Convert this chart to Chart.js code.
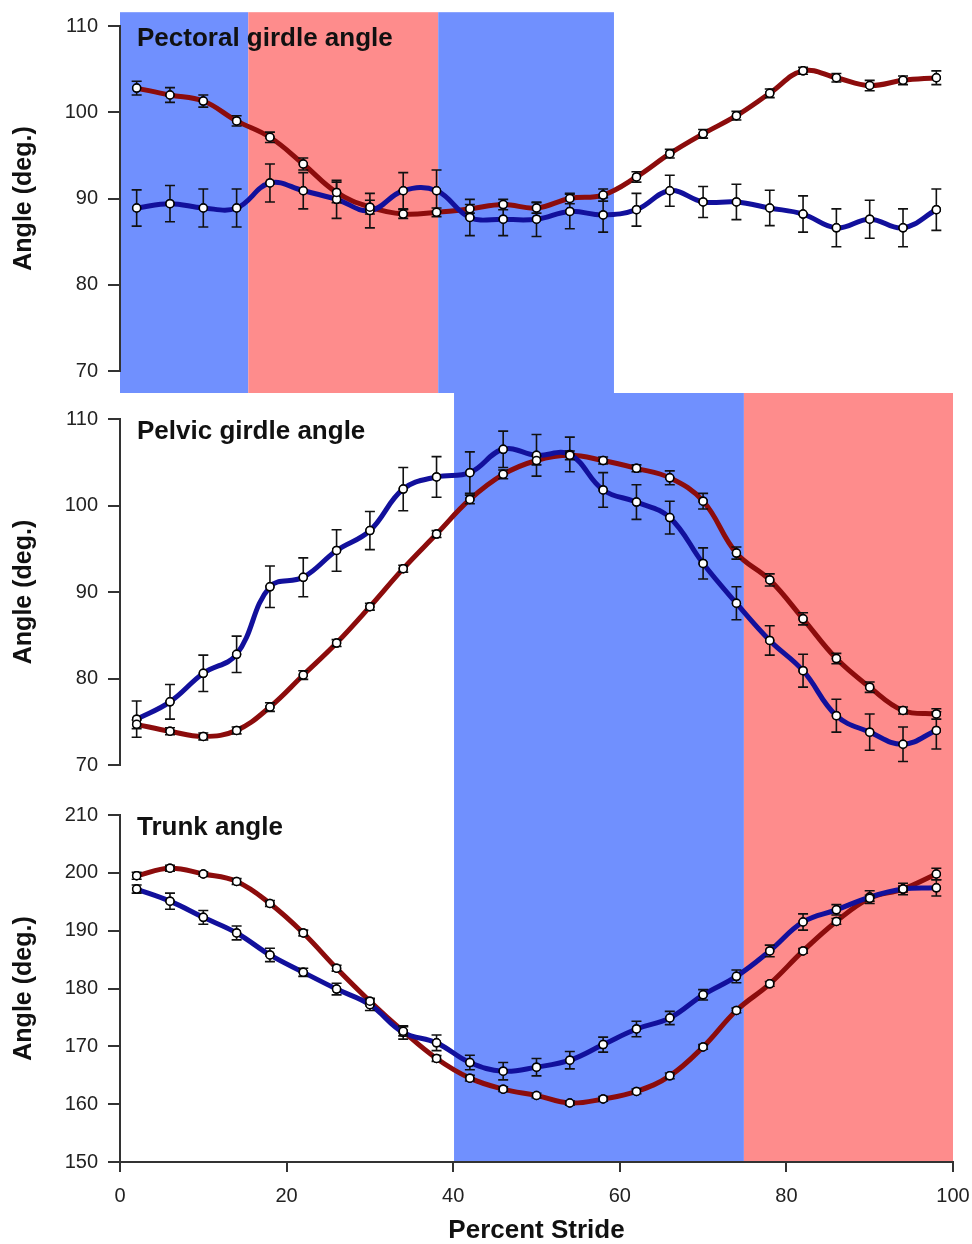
<!DOCTYPE html>
<html>
<head>
<meta charset="utf-8">
<title>Girdle and trunk angles</title>
<script src="https://cdn.jsdelivr.net/npm/chart.js@4.4.1/dist/chart.umd.min.js"></script>
<style>
  body { margin: 0; background: #fff; }
  #page { position: relative; width: 972px; height: 1244px; }
  .panel { position: absolute; left: 0; width: 972px; }
</style>
</head>
<body>
<div id="page">
  <div class="panel" style="top:0;height:393px"><canvas id="pectoralChart"></canvas></div>
  <div class="panel" style="top:393px;height:397px"><canvas id="pelvicChart"></canvas></div>
  <div class="panel" style="top:790px;height:454px"><canvas id="trunkChart"></canvas></div>
</div>
<script>
// Percent stride sample positions
const stride = [2, 6, 10, 14, 18, 22, 26, 30, 34, 38, 42, 46, 50, 54, 58, 62, 66, 70, 74, 78, 82, 86, 90, 94, 98];

// Pectoral girdle angle (deg.)
const pectoralRed = [102.8, 102.0, 101.3, 99.0, 97.1, 94.0, 90.7, 89.0, 88.2, 88.4, 88.8, 89.3, 88.9, 90.0, 90.4, 92.5, 95.2, 97.5, 99.6, 102.2, 104.8, 104.0, 103.1, 103.7, 104.0];
const pectoralRedErr = [0.8, 0.85, 0.7, 0.6, 0.6, 0.7, 1.2, 0.8, 0.5, 0.5, 0.5, 0.6, 0.6, 0.6, 0.7, 0.6, 0.5, 0.5, 0.5, 0.5, 0.4, 0.5, 0.6, 0.5, 0.8];
const pectoralBlue = [88.9, 89.4, 88.9, 88.9, 91.8, 90.9, 89.9, 88.6, 90.9, 90.9, 87.8, 87.6, 87.6, 88.5, 88.1, 88.7, 90.9, 89.6, 89.6, 88.9, 88.2, 86.6, 87.6, 86.6, 88.7];
const pectoralBlueErr = [2.1, 2.1, 2.2, 2.2, 2.2, 2.1, 2.2, 2.0, 2.1, 2.4, 2.1, 1.9, 2.0, 2.0, 2.0, 1.9, 1.8, 1.8, 2.05, 2.05, 2.1, 2.2, 2.2, 2.2, 2.4];

// Pelvic girdle angle (deg.)
const pelvicRed = [74.7, 73.9, 73.3, 74.0, 76.7, 80.4, 84.1, 88.3, 92.7, 96.7, 100.7, 103.6, 105.2, 105.8, 105.2, 104.3, 103.2, 100.5, 94.5, 91.4, 86.9, 82.3, 79.0, 76.3, 75.9];
const pelvicRedErr = [0.5, 0.4, 0.4, 0.4, 0.5, 0.5, 0.4, 0.4, 0.4, 0.4, 0.5, 0.5, 0.5, 0.5, 0.4, 0.4, 0.8, 0.9, 0.7, 0.7, 0.7, 0.6, 0.6, 0.4, 0.6];
const pelvicBlue = [75.3, 77.3, 80.6, 82.8, 90.6, 91.7, 94.8, 97.1, 101.9, 103.3, 103.8, 106.5, 105.8, 105.9, 101.8, 100.4, 98.6, 93.3, 88.7, 84.4, 80.9, 75.7, 73.8, 72.4, 74.0];
const pelvicBlueErr = [2.1, 2.0, 2.1, 2.1, 2.4, 2.25, 2.4, 2.2, 2.5, 2.35, 2.4, 2.1, 2.4, 2.0, 2.0, 2.0, 1.9, 1.8, 1.9, 1.7, 1.9, 1.9, 2.1, 2.0, 2.15];

// Trunk angle (deg.)
const trunkRed = [199.5, 200.8, 199.8, 198.5, 194.7, 189.6, 183.5, 177.8, 172.6, 167.9, 164.5, 162.6, 161.5, 160.2, 160.9, 162.2, 164.9, 169.9, 176.2, 180.8, 186.5, 191.6, 195.6, 197.2, 199.8];
const trunkRedErr = [0.6, 0.5, 0.4, 0.5, 0.5, 0.5, 0.5, 0.5, 0.8, 0.5, 0.5, 0.4, 0.4, 0.4, 0.4, 0.4, 0.5, 0.4, 0.4, 0.4, 0.4, 0.5, 0.5, 0.5, 1.0];
const trunkBlue = [197.2, 195.1, 192.3, 189.6, 185.8, 182.8, 179.9, 177.2, 172.4, 170.6, 167.2, 165.7, 166.4, 167.6, 170.3, 173.0, 174.9, 178.9, 182.1, 186.5, 191.5, 193.6, 195.8, 197.2, 197.4];
const trunkBlueErr = [0.7, 1.4, 1.2, 1.2, 1.15, 0.7, 1.0, 1.0, 1.15, 1.35, 1.25, 1.5, 1.5, 1.5, 1.3, 1.35, 1.15, 0.9, 1.1, 1.0, 1.4, 0.9, 1.1, 1.0, 1.4];

// Phase bands: [start %, end %, phase]
const pectoralBands = [[0, 15.4, 'blue'], [15.4, 38.2, 'red'], [38.2, 59.3, 'blue']];
const pelvicBands = [[40.1, 74.9, 'blue'], [74.9, 100, 'red']];
const trunkBands = [[40.1, 74.9, 'blue'], [74.9, 100, 'red']];

const phaseColors = { blue: '#7090fe', red: '#fe8c8c' };
const lineColors = { blue: '#12109c', red: '#8c0c0c' };
const FONT = "'Liberation Sans', Arial, Helvetica, sans-serif";

// Shaded stance/swing bands behind everything (drawn before the axes)
const bandPlugin = {
  id: 'phaseBands',
  beforeDraw(chart, args, opts) {
    const { ctx, scales: { x, y } } = chart;
    const top = opts.top == null ? 0 : y.getPixelForValue(opts.top);
    const bottom = opts.bottom == null ? chart.height : y.getPixelForValue(opts.bottom);
    ctx.save();
    opts.bands.forEach(([from, to, phase]) => {
      const left = x.getPixelForValue(from);
      const right = x.getPixelForValue(to);
      ctx.fillStyle = phaseColors[phase];
      ctx.fillRect(left, top, right - left, bottom - top);
    });
    ctx.restore();
  }
};

// Error bars over the lines, then the points again on top
const errorBarPlugin = {
  id: 'errorBars',
  afterDatasetsDraw(chart) {
    const { ctx, scales: { y } } = chart;
    ctx.save();
    ctx.strokeStyle = '#111';
    ctx.lineWidth = 1.6;
    chart.data.datasets.forEach((ds, di) => {
      const meta = chart.getDatasetMeta(di);
      ds.data.forEach((d, i) => {
        const px = meta.data[i].x;
        const hi = y.getPixelForValue(d.y + ds.errors[i]);
        const lo = y.getPixelForValue(d.y - ds.errors[i]);
        ctx.beginPath();
        ctx.moveTo(px, hi); ctx.lineTo(px, lo);
        ctx.moveTo(px - 5, hi); ctx.lineTo(px + 5, hi);
        ctx.moveTo(px - 5, lo); ctx.lineTo(px + 5, lo);
        ctx.stroke();
      });
    });
    ctx.restore();
    chart.data.datasets.forEach((ds, di) => {
      chart.getDatasetMeta(di).data.forEach(pt => pt.draw(ctx, chart.chartArea));
    });
  }
};

// Bold panel heading inside the plot area
const headingPlugin = {
  id: 'panelHeading',
  afterDraw(chart, args, opts) {
    const { ctx, chartArea } = chart;
    ctx.save();
    ctx.font = 'bold 26px ' + FONT;
    ctx.fillStyle = '#111';
    ctx.textBaseline = 'alphabetic';
    ctx.fillText(opts.text, chartArea.left + 17, chartArea.top + 20);
    ctx.restore();
  }
};

function series(values, errors, color) {
  return {
    data: stride.map((s, i) => ({ x: s, y: values[i] })),
    errors: errors,
    borderColor: color,
    borderWidth: 5,
    tension: 0.4,
    pointRadius: 4,
    pointBackgroundColor: '#fff',
    pointBorderColor: '#000',
    pointBorderWidth: 1.5
  };
}

function makePanel(id, cfg) {
  return new Chart(document.getElementById(id), {
    type: 'line',
    data: {
      datasets: [
        series(cfg.blue, cfg.blueErr, lineColors.blue),
        series(cfg.red, cfg.redErr, lineColors.red)
      ]
    },
    options: {
      responsive: true,
      maintainAspectRatio: false,
      animation: false,
      layout: { padding: cfg.padding },
      plugins: {
        legend: { display: false },
        tooltip: { enabled: false },
        phaseBands: { bands: cfg.bands, top: cfg.bandTop, bottom: cfg.bandBottom },
        panelHeading: { text: cfg.heading }
      },
      scales: {
        x: {
          type: 'linear',
          min: 0,
          max: 100,
          display: cfg.showX,
          afterFit: scale => {
            scale.height = cfg.showX ? 82 : 0;
            scale.paddingLeft = 0;
            scale.paddingRight = 0;
          },
          ticks: { stepSize: 20, padding: 12, color: '#222', font: { family: FONT, size: 20 } },
          grid: { drawOnChartArea: false, tickLength: 10, color: '#333', lineWidth: 2 },
          border: { color: '#333', width: 2 },
          title: {
            display: true,
            text: 'Percent Stride',
            color: '#111',
            padding: { top: 0, bottom: 0 },
            font: { family: FONT, size: 26, weight: 'bold', lineHeight: 1 }
          }
        },
        y: {
          min: cfg.yMin,
          max: cfg.yMax,
          afterFit: scale => { scale.width = 120; },
          ticks: { stepSize: 10, padding: 10, color: '#222', font: { family: FONT, size: 20 } },
          grid: { drawOnChartArea: false, tickLength: 12, color: '#333', lineWidth: 2 },
          border: { color: '#333', width: 2 },
          title: {
            display: true,
            text: 'Angle (deg.)',
            color: '#111',
            padding: { top: 9, bottom: 0 },
            font: { family: FONT, size: 25, weight: 'bold' }
          }
        }
      }
    },
    plugins: [bandPlugin, errorBarPlugin, headingPlugin]
  });
}

makePanel('pectoralChart', {
  heading: 'Pectoral girdle angle',
  red: pectoralRed, redErr: pectoralRedErr,
  blue: pectoralBlue, blueErr: pectoralBlueErr,
  yMin: 70, yMax: 110,
  bands: pectoralBands, bandTop: 111.6, bandBottom: null,
  showX: false,
  padding: { top: 26, right: 19, bottom: 21, left: 0 }
});

makePanel('pelvicChart', {
  heading: 'Pelvic girdle angle',
  red: pelvicRed, redErr: pelvicRedErr,
  blue: pelvicBlue, blueErr: pelvicBlueErr,
  yMin: 70, yMax: 110,
  bands: pelvicBands, bandTop: null, bandBottom: null,
  showX: false,
  padding: { top: 26, right: 19, bottom: 25, left: 0 }
});

makePanel('trunkChart', {
  heading: 'Trunk angle',
  red: trunkRed, redErr: trunkRedErr,
  blue: trunkBlue, blueErr: trunkBlueErr,
  yMin: 150, yMax: 210,
  bands: trunkBands, bandTop: null, bandBottom: 150,
  showX: true,
  padding: { top: 25, right: 19, bottom: 0, left: 0 }
});
</script>
</body>
</html>
